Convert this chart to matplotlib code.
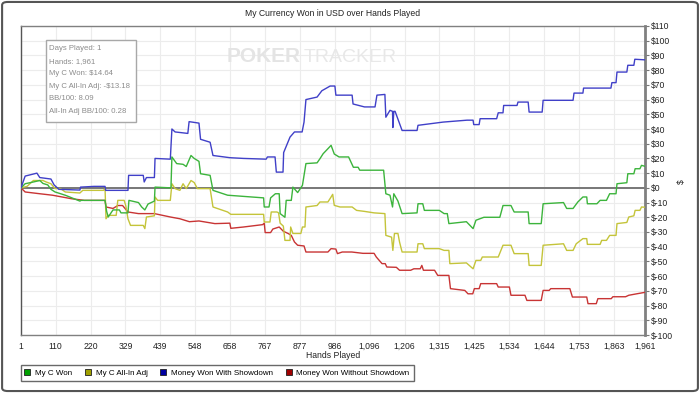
import matplotlib
matplotlib.use("Agg")
import matplotlib.pyplot as plt
from matplotlib.lines import Line2D
from matplotlib.patches import Rectangle, FancyBboxPatch

# ---------------- data ----------------
x_ticks = [1, 110, 220, 329, 439, 548, 658, 767, 877, 986, 1096, 1206, 1315,
           1425, 1534, 1644, 1753, 1863, 1961]
x_tick_labels = ["1", "110", "220", "329", "439", "548", "658", "767", "877", "986",
                 "1,096", "1,206", "1,315", "1,425", "1,534", "1,644", "1,753",
                 "1,863", "1,961"]
y_ticks = list(range(-100, 111, 10))
y_tick_labels = ["$" + str(v) for v in y_ticks]

series_names = ["My C Won", "My C All-In Adj", "Money Won With Showdown",
                "Money Won Without Showdown"]

green_hands = [1, 14, 40, 60, 70, 85, 95, 108, 140, 186, 190, 265, 270, 275, 290, 310, 315, 337,
               340, 370, 380, 390, 400, 420, 422, 472, 475, 490, 510, 520, 535, 545, 560, 565,
               595, 604, 650, 763, 765, 780, 785, 800, 812, 815, 830, 834, 850, 855, 870, 885,
               896, 931, 940, 950, 965, 975, 985, 1000, 1030, 1045, 1060, 1065, 1140, 1147,
               1160, 1168, 1172, 1185, 1198, 1245, 1248, 1263, 1268, 1315, 1330, 1340, 1345,
               1400, 1421, 1430, 1455, 1505, 1515, 1540, 1550, 1594, 1597, 1635, 1641, 1705,
               1715, 1735, 1750, 1766, 1778, 1780, 1810, 1820, 1840, 1850, 1870, 1873, 1904,
               1907, 1926, 1930, 1945, 1950, 1961]
green_vals = [0, 2.8, 4, 5, 3, 2, -1, -2.8, -5, -9, -8.5, -8.5, -16, -19.8, -15, -15, -17, -17,
              -8.5, -10, -13, -15, -11, -9, 0.5, 0, 21, 16.5, 16, 14.5, 22, 20, 18, 9.6,
              8.5, -1.7, -5, -6.8, -13, -13, -6.8, -4, -4, -17.5, -20, -8.5, -8.5, 0.5, -3.2, 1.7,
              16.5, 17, 19.8, 23.2, 26.6, 28.9, 23, 21, 21, 14, 14, 12, 12, -4,
              -5, -13, -4, -9, -17.5, -17, -10.8, -10.8, -15.3, -15.3, -17.5, -17.5, -24.3,
              -23, -27.7, -22, -20, -20, -12, -12, -16.4, -16.4, -24.3, -24.3, -10.8, -10,
              -14, -14, -9.6, -6.2, -6.2, -10.8, -10.8, -8.5, -8.5, -4, -4, 2.8, 3.5,
              9.6, 9.6, 13, 13, 15.3, 14.64]

yellow_hands = [1, 20, 40, 70, 80, 95, 108, 125, 140, 186, 195, 260, 265, 268, 275, 300, 305,
                325, 330, 337, 345, 385, 390, 395, 420, 422, 430, 470, 475, 485, 500, 510, 520,
                535, 545, 555, 595, 604, 650, 660, 763, 765, 783, 787, 805, 810, 815, 825, 830,
                846, 848, 855, 880, 885, 893, 896, 931, 940, 965, 975, 980, 985, 1003, 1041,
                1055, 1080, 1110, 1144, 1147, 1165, 1169, 1174, 1185, 1190, 1198, 1245, 1248,
                1263, 1268, 1315, 1330, 1345, 1348, 1400, 1421, 1430, 1445, 1450, 1500, 1515,
                1540, 1550, 1594, 1597, 1635, 1641, 1705, 1715, 1735, 1745, 1766, 1778, 1780,
                1820, 1825, 1840, 1850, 1870, 1873, 1904, 1910, 1926, 1930, 1945, 1950, 1961]
yellow_vals = [0, 1, 5, 5, 4, 2.8, -0.5, -0.5, -2.8, -3.5, -1.7, -1.7, -0.5, -21, -18.7, -18.7,
               -8.5, -8.5, -12, -21, -25.5, -25.5, -27.7, -19.8, -19, -6.2, -8.5, -8.5, 2.8,
               -0.5, -1.7, 2.8, -0.5, 5, 3.6, -0.5, -0.5, -13, -16.4, -18, -18, -23.2, -23.2,
               -16.4, -16.4, -17, -24, -26, -35.7, -35.7, -26.6, -31, -31, -26.6, -26.6, -13,
               -12, -9.6, -9.6, -6.2, -4.4, -11.9, -13, -13, -15.3, -16, -17, -17.5, -32.3,
               -33.5, -42.5, -31, -31, -36.8, -43.6, -43.6, -38, -38, -41.3, -41.3, -42.5,
               -42.5, -51.5, -51, -55, -49.3, -49.3, -47, -47, -39, -39, -44.7, -44.7, -52.7,
               -52.7, -39, -38, -42.5, -42.5, -38, -34.5, -34.5, -38.4, -38.4, -35.7, -35.7,
               -32.3, -32.3, -24.3, -23.5, -19.8, -19, -15.3, -15.3, -13, -13.18]

blue_hands = [1, 14, 51, 60, 95, 105, 120, 186, 188, 230, 265, 267, 337, 339, 385, 388, 395,
              420, 422, 470, 475, 485, 525, 529, 560, 565, 595, 604, 657, 700, 771, 775, 799,
              803, 824, 826, 846, 860, 884, 890, 896, 931, 946, 972, 987, 990, 1041, 1044, 1080,
              1113, 1119, 1144, 1147, 1160, 1168, 1169, 1172, 1176, 1198, 1245, 1248, 1327,
              1402, 1421, 1423, 1440, 1443, 1495, 1500, 1515, 1517, 1559, 1562, 1594, 1597,
              1638, 1641, 1735, 1738, 1766, 1768, 1854, 1857, 1870, 1873, 1904, 1907, 1926,
              1929, 1961]
blue_vals = [0, 8, 10, 7, 6, 2, -1, -1.5, 0.5, 1, 1, -1.7, -1.7, 8.5, 8.5, 4, 7,
             7, 20, 19.5, 40, 38, 37, 45, 44, 33, 31, 22, 20.5, 20, 19.5, 21, 21,
             10.7, 10.7, 24, 34.5, 38, 38, 44.7, 60, 61.7, 66, 69.2, 69.2, 63, 63, 57, 55,
             55, 63, 63.5, 48, 52.7, 52, 41, 52, 52, 39, 39, 42.5, 44.7,
             46, 46, 43, 43, 47, 47, 51, 51, 56, 56, 58.3, 58.3, 51.5,
             51.5, 59.5, 59.5, 64.4, 64.4, 67.8, 67.8, 71.5, 71.5, 78.7, 78.7, 83.3, 83.3,
             87.4, 87]

red_hands = [1, 14, 60, 100, 160, 200, 265, 268, 290, 305, 320, 337, 370, 420, 470, 500, 530,
             560, 610, 657, 660, 700, 760, 765, 768, 785, 792, 812, 825, 840, 850, 860, 870,
             890, 896, 965, 975, 990, 995, 1010, 1040, 1075, 1110, 1117, 1135, 1145, 1150,
             1180, 1190, 1225, 1235, 1255, 1260, 1265, 1300, 1310, 1345, 1350, 1395, 1405,
             1420, 1425, 1440, 1445, 1495, 1500, 1535, 1540, 1584, 1590, 1635, 1641, 1660,
             1665, 1725, 1733, 1778, 1782, 1808, 1813, 1855, 1860, 1900, 1910, 1935, 1961]
red_vals = [0, -2.8, -4, -5, -7.4, -8.5, -8.5, -13, -14, -12, -12, -16.4, -17.5, -17.5, -19.8,
            -21, -23, -22.5, -24.3, -24, -27.5, -26.6, -25, -24, -30.4, -30.4, -28, -26.6,
            -29.5, -31, -32.3, -36.8, -39, -39.5, -43.6, -43.6, -41.3, -41.6, -44.7, -43.6,
            -43.6, -44.5, -44.5, -47, -51.5, -51.5, -53.8, -54, -56, -56, -55, -55, -52.7,
            -56, -56, -59.5, -59.5, -68.5, -69.7, -72, -72, -68.5, -68.5, -65.1, -65.1,
            -67.4, -67.4, -73, -73, -76.5, -76.5, -69.7, -69.7, -68.5, -68.5, -74.2, -74.2,
            -78.7, -78.7, -75.3, -75.3, -74, -74, -73, -72, -71]

info_lines = ["Days Played: 1", "Hands: 1,961", "My C Won: $14.64",
              "My C All-In Adj: -$13.18", "BB/100: 8.09", "All-In Adj BB/100: 0.28"]

# ---------------- style ----------------
plt.rcParams["font.family"] = ["Liberation Sans", "DejaVu Sans"]

line_colors = ["#3cb43c", "#c4c43a", "#4040c8", "#c83434"]
legend_colors = ["#00a000", "#a0a000", "#0000a0", "#a00000"]
FS = 6.2

W, H = 700, 393
fig = plt.figure(figsize=(7.0, 3.93), dpi=100)
fig.patch.set_facecolor("white")


def fx(px):
    return px / W


def fy(py):
    return 1 - py / H


ax = fig.add_axes([fx(21), fy(335), fx(645) - fx(21), fy(26) - fy(335)])
ax.set_xlim(1, 1961)
ax.set_ylim(-100, 110)

for xv in x_ticks:
    ax.axvline(xv, color="#ececec", lw=0.8, zorder=0)
for yv in y_ticks:
    ax.axhline(yv, color="#ececec", lw=0.8, zorder=0)
ax.axhline(0, color="#777777", lw=1.4, zorder=1)

# watermark
fig.text(fx(227), fy(62), "POKER", fontsize=15, fontweight="bold",
         color="#e4e4e4", ha="left", va="baseline", zorder=0.5)
fig.text(fx(304), fy(62), "TRACKER", fontsize=14,
         color="#e8e8e8", ha="left", va="baseline", zorder=0.5)

data = [(green_hands, green_vals), (yellow_hands, yellow_vals),
        (blue_hands, blue_vals), (red_hands, red_vals)]
order = [3, 1, 0, 2]
for i in order:
    h, v = data[i]
    ax.plot(h, v, color=line_colors[i], lw=1.0, zorder=3)

ax.yaxis.tick_right()
ax.set_yticks(y_ticks)
ax.set_yticklabels(y_tick_labels)
ax.set_xticks(x_ticks)
ax.set_xticklabels(x_tick_labels)
ax.tick_params(axis="y", labelsize=FS, length=3, width=0.8, color="#777777", pad=1.5,
               labelcolor="#222222")
ax.tick_params(axis="x", labelsize=FS, length=0, pad=5, labelcolor="#222222")
for s in ax.spines.values():
    s.set_color("#808080")
    s.set_linewidth(1.0)
ax.spines["right"].set_linewidth(2.0)
ax.spines["left"].set_color("#555555")

fig.text(fx(333), fy(356), "Hands Played", fontsize=FS, ha="center", va="center",
         color="#222222")
fig.text(fx(681), fy(182), "$", fontsize=FS, rotation=90, ha="center", va="center",
         color="#222222")
fig.text(fx(333), fy(14), "My Currency Won in USD over Hands Played", fontsize=FS,
         ha="center", va="center", color="#222222")

# info box
fig.patches.append(Rectangle((fx(46), fy(122)), fx(136) - fx(46), fy(40) - fy(122),
                             transform=fig.transFigure, facecolor="white",
                             edgecolor="#a8a8a8", lw=1.0, zorder=5))
for k, t in enumerate(info_lines):
    fig.text(fx(49), fy(48.5 + 12.6 * k), t, fontsize=5.6, color="#8c8c8c",
             ha="left", va="center", zorder=6)

# legend
handles = [Line2D([], [], linestyle="none", marker="s", markersize=4.5,
                  markerfacecolor=c, markeredgecolor="#202020", markeredgewidth=0.6)
           for c in legend_colors]
leg = fig.legend(handles, series_names, loc="lower left",
                 bbox_to_anchor=(fx(21), fy(381)), ncol=4, fontsize=5.8, frameon=True,
                 fancybox=False, edgecolor="#444444", handlelength=0.5, handletextpad=0.7,
                 columnspacing=1.7, borderpad=0.55, borderaxespad=0)
leg.get_frame().set_linewidth(1.0)

# figure border
fig.patches.append(FancyBboxPatch((0.003, 0.005), 0.994, 0.99,
                                  boxstyle="round,pad=0,rounding_size=0.008",
                                  transform=fig.transFigure, facecolor="none",
                                  edgecolor="#555555", lw=1.5, zorder=10))

fig.savefig("out.png", dpi=100)
